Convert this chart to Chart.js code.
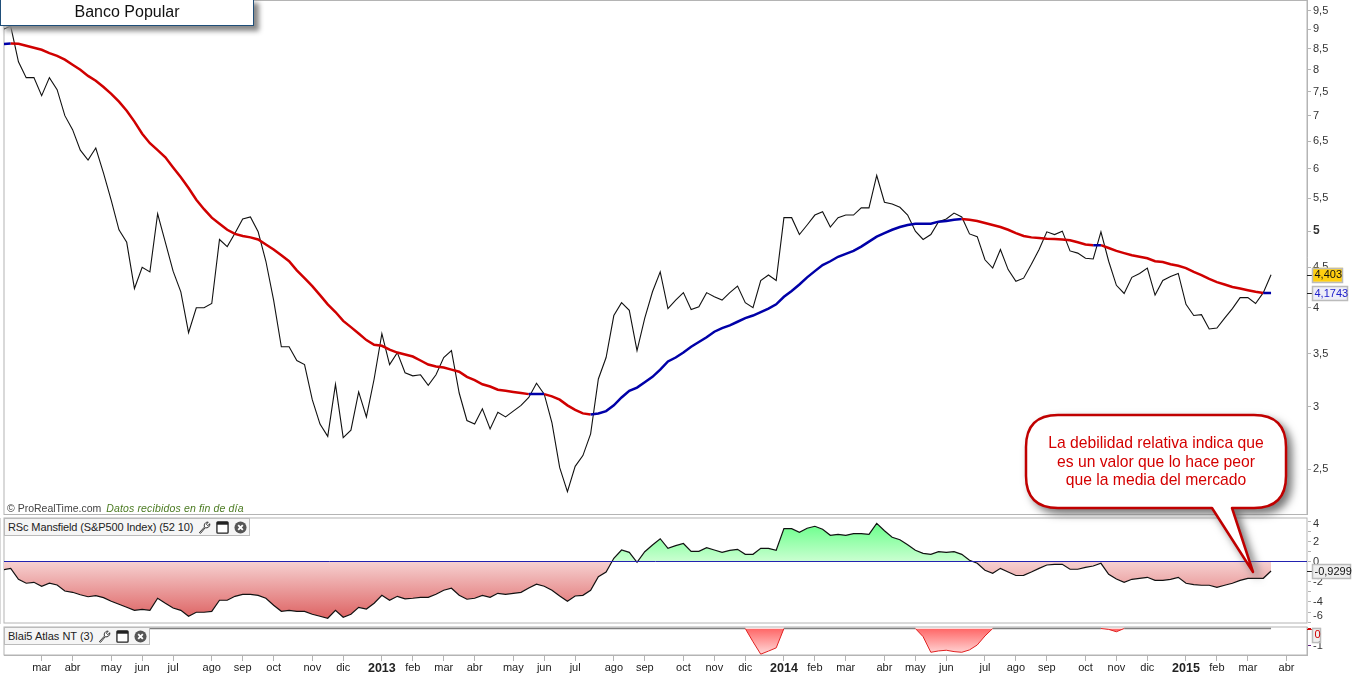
<!DOCTYPE html>
<html lang="es">
<head>
<meta charset="UTF-8">
<title>Banco Popular</title>
<script src="https://cdn.jsdelivr.net/npm/chart.js"></script>
<style>
  html, body { margin: 0; padding: 0; background: #fff; overflow: hidden; font-family: "Liberation Sans", Arial, sans-serif; }
  canvas { position: absolute; left: 0; }
  #title { position: absolute; left: 0; top: -2px; width: 252px; height: 26px; border: 1.5px solid #1f4e79; background: #fff;
           box-shadow: 5px 5px 5px #888; text-align: center; font-size: 16px; line-height: 26px; color: #111; }
  #source { position: absolute; left: 7px; top: 502px; font-size: 10.5px; color: #444; white-space: nowrap; }
  #source i { color: #4a7a20; margin-left: 2px; letter-spacing: 0.15px; }
  .tag { position: absolute; left: 4px; box-sizing: border-box; background: #f5f5f5; border: 1px solid #bbb; font-size: 11px; color: #222;
         display: flex; align-items: center; padding-left: 3px; white-space: nowrap; }
  .tag svg { margin-left: 5px; flex: none; }
  #callout { position: absolute; left: 1020px; top: 410px; filter: drop-shadow(5px 5px 4px #777); }
  #calloutText { position: absolute; left: 1026px; top: 434px; width: 260px; text-align: center; font-size: 15.7px; line-height: 18.5px; color: #d40000; }
</style>
</head>
<body>
<canvas id="priceChart" width="1361" height="516" style="top:0"></canvas>
<canvas id="rsChart" width="1361" height="110" style="top:516px"></canvas>
<canvas id="atlasChart" width="1361" height="50" style="top:624px"></canvas>

<div id="title">Banco Popular</div>
<div id="source">© ProRealTime.com <i>Datos recibidos en fin de día</i></div>

<div class="tag" style="top:518px;width:246px;height:18px"><span style="letter-spacing:-0.12px">RSc Mansfield (S&amp;P500 Index) (52 10)</span>
  <svg width="13" height="13" viewBox="0 0 14 14"><use href="#wrench"/></svg><svg width="13" height="13" viewBox="0 0 14 14"><use href="#win"/></svg><svg width="13" height="13" viewBox="0 0 14 14"><use href="#close"/></svg>
</div>
<div class="tag" style="top:627px;width:146px;height:18px"><span>Blai5 Atlas NT (3)</span>
  <svg width="13" height="13" viewBox="0 0 14 14"><use href="#wrench"/></svg><svg width="13" height="13" viewBox="0 0 14 14"><use href="#win"/></svg><svg width="13" height="13" viewBox="0 0 14 14"><use href="#close"/></svg>
</div>

<svg width="0" height="0" style="position:absolute">
  <defs>
    <g id="wrench"><path d="M1.5 12.5 L7 6.5 C6 3.5 8 1 11 1.2 L9 3.5 L10.5 5 L12.8 3 C13 6 10.5 8 7.8 7.3 L2.8 13.2 Z" fill="#fff" stroke="#222" stroke-width="1"/></g>
    <g id="win"><rect x="1" y="1" width="12" height="12" rx="1" fill="#fff" stroke="#222" stroke-width="1.4"/><rect x="1" y="1" width="12" height="3" fill="#222"/></g>
    <g id="close"><circle cx="7" cy="7" r="6.5" fill="#555"/><path d="M4.5 4.5 L9.5 9.5 M9.5 4.5 L4.5 9.5" stroke="#fff" stroke-width="2"/></g>
  </defs>
</svg>

<!-- callout over the two panels -->
<svg id="callout" width="260" height="175" viewBox="1020 410 260 175" style="overflow:visible">
  <path d="M1058 415 H1254 Q1286 415 1286 447 V476 Q1286 508 1254 508 H1232 L1253 572 L1212 508 H1058 Q1026 508 1026 476 V447 Q1026 415 1058 415 Z"
        fill="#fff" stroke="#c00000" stroke-width="2.5" stroke-linejoin="round"/>
</svg>
<div id="calloutText">La debilidad relativa indica que<br>es un valor que lo hace peor<br>que la media del mercado</div>

<script>
// weekly closes, one per week
const prices = [
  9.00, 9.08, 8.19, 7.82, 7.82, 7.42, 7.82, 7.55, 7.00, 6.72, 6.33, 6.15, 6.37, 5.92, 5.47, 5.02, 4.84, 4.23, 4.50, 4.44,
  5.26, 4.84, 4.45, 4.19, 3.72, 4.00, 4.00, 4.05, 4.88, 4.78, 4.97, 5.18, 5.21, 4.99, 4.58, 4.09, 3.57, 3.57, 3.43, 3.39,
  3.06, 2.85, 2.75, 3.20, 2.74, 2.80, 3.13, 2.91, 3.25, 3.71, 3.39, 3.51, 3.31, 3.28, 3.29, 3.19, 3.29, 3.46, 3.53, 3.12,
  2.88, 2.85, 2.98, 2.81, 2.95, 2.91, 2.96, 3.01, 3.08, 3.21, 3.11, 2.86, 2.51, 2.34, 2.52, 2.60, 2.77, 3.25, 3.46, 3.91,
  4.06, 3.97, 3.53, 3.88, 4.19, 4.44, 3.99, 4.09, 4.18, 3.98, 4.01, 4.18, 4.13, 4.09, 4.18, 4.26, 4.06, 4.00, 4.33, 4.40,
  4.33, 5.20, 5.20, 4.95, 5.09, 5.24, 5.29, 5.06, 5.20, 5.24, 5.24, 5.35, 5.35, 5.88, 5.44, 5.41, 5.36, 5.24, 5.00, 4.88,
  4.95, 5.14, 5.18, 5.27, 5.21, 4.96, 4.92, 4.60, 4.49, 4.74, 4.47, 4.32, 4.36, 4.54, 4.74, 4.99, 4.95, 5.00, 4.72, 4.69,
  4.62, 4.61, 4.99, 4.58, 4.27, 4.17, 4.37, 4.42, 4.49, 4.15, 4.33, 4.38, 4.42, 4.04, 3.91, 3.92, 3.76, 3.77, 3.88, 3.99,
  4.12, 4.12, 4.05, 4.18, 4.403
];

// moving average on the price panel
const average = [
  8.62, 8.64, 8.63, 8.58, 8.53, 8.48, 8.40, 8.33, 8.24, 8.12, 8.00, 7.86, 7.75, 7.61, 7.46, 7.29, 7.10, 6.88, 6.64, 6.46,
  6.33, 6.20, 6.02, 5.85, 5.67, 5.48, 5.33, 5.20, 5.11, 5.02, 4.96, 4.93, 4.91, 4.88, 4.81, 4.74, 4.66, 4.58, 4.46, 4.36,
  4.26, 4.15, 4.04, 3.95, 3.85, 3.78, 3.71, 3.64, 3.59, 3.58, 3.54, 3.51, 3.49, 3.47, 3.43, 3.39, 3.37, 3.36, 3.34, 3.32,
  3.27, 3.24, 3.20, 3.18, 3.15, 3.14, 3.13, 3.12, 3.11, 3.11, 3.11, 3.09, 3.06, 3.01, 2.97, 2.94, 2.93, 2.94, 2.96, 3.01,
  3.08, 3.14, 3.17, 3.22, 3.27, 3.34, 3.42, 3.46, 3.51, 3.57, 3.62, 3.67, 3.73, 3.77, 3.80, 3.84, 3.88, 3.91, 3.95, 3.99,
  4.04, 4.13, 4.20, 4.28, 4.37, 4.45, 4.53, 4.58, 4.64, 4.68, 4.72, 4.78, 4.85, 4.92, 4.97, 5.02, 5.06, 5.09, 5.11, 5.11,
  5.11, 5.14, 5.15, 5.17, 5.18, 5.17, 5.15, 5.12, 5.09, 5.06, 5.02, 4.97, 4.93, 4.91, 4.90, 4.89, 4.885, 4.88, 4.87, 4.84,
  4.81, 4.80, 4.80, 4.76, 4.72, 4.69, 4.66, 4.64, 4.62, 4.58, 4.57, 4.54, 4.52, 4.49, 4.44, 4.40, 4.35, 4.31, 4.28, 4.25,
  4.23, 4.21, 4.19, 4.1743, 4.1743
];

// RSc Mansfield
const mansfield = [
  -0.82, -0.66, -1.75, -2.14, -2.05, -2.44, -2.14, -2.31, -2.91, -3.04, -3.28, -3.48, -3.38, -3.57, -3.93, -4.23, -4.53, -4.83, -4.73, -4.83,
  -3.63, -4.13, -4.60, -4.83, -5.42, -5.02, -5.02, -4.93, -3.83, -3.83, -3.44, -3.24, -3.24, -3.34, -3.63, -4.33, -4.93, -4.83, -4.93, -4.93,
  -5.22, -5.42, -5.62, -4.83, -5.52, -5.22, -4.53, -4.70, -4.13, -3.34, -3.83, -3.44, -3.70, -3.63, -3.54, -3.54, -3.24, -2.84, -2.64, -3.34,
  -3.73, -3.63, -3.34, -3.54, -3.14, -3.24, -3.14, -3.04, -2.61, -2.24, -2.44, -2.84, -3.41, -3.93, -3.41, -3.34, -2.84, -1.49, -1.02, 0.34,
  1.16, 0.93, -0.06, 0.99, 1.66, 2.28, 1.33, 1.59, 1.81, 1.03, 1.03, 1.39, 1.16, 0.93, 1.13, 1.23, 0.73, 0.73, 1.33, 1.33,
  1.13, 3.28, 3.28, 2.92, 3.32, 3.52, 3.22, 2.62, 2.72, 2.62, 2.78, 2.78, 2.72, 3.81, 3.08, 2.42, 2.18, 1.69, 1.13, 0.83,
  0.73, 0.99, 0.93, 0.99, 0.73, 0.14, -0.16, -0.85, -1.15, -0.66, -1.02, -1.37, -1.35, -1.02, -0.66, -0.33, -0.26, -0.26, -0.75, -0.75,
  -0.56, -0.43, -0.16, -1.25, -1.72, -2.05, -1.75, -1.65, -1.55, -1.85, -1.85, -1.75, -1.55, -2.14, -2.28, -2.34, -2.34, -2.54, -2.34, -2.14,
  -1.85, -1.65, -1.65, -1.65, -0.9299
];

// Blai5 Atlas NT, zero except for three dips
const atlas = [
  0, 0, 0, 0, 0, 0, 0, 0, 0, 0, 0, 0, 0, 0, 0, 0, 0, 0, 0, 0,
  0, 0, 0, 0, 0, 0, 0, 0, 0, 0, 0, 0, 0, 0, 0, 0, 0, 0, 0, 0,
  0, 0, 0, 0, 0, 0, 0, 0, 0, 0, 0, 0, 0, 0, 0, 0, 0, 0, 0, 0,
  0, 0, 0, 0, 0, 0, 0, 0, 0, 0, 0, 0, 0, 0, 0, 0, 0, 0, 0, 0,
  0, 0, 0, 0, 0, 0, 0, 0, 0, 0, 0, 0, 0, 0, 0, 0, 0, -0.78, -1.51, -1.33,
  -1.14, 0, 0, 0, 0, 0, 0, 0, 0, 0, 0, 0, 0, 0, 0, 0, 0, 0, 0, -0.48,
  -1.40, -1.32, -1.28, -1.36, -1.40, -1.26, -0.97, -0.44, 0, 0, 0, 0, 0, 0, 0, 0, 0, 0, 0, 0,
  0, 0, 0, -0.05, -0.19, 0, 0, 0, 0, 0, 0, 0, 0, 0, 0, 0, 0, 0, 0, 0,
  0, 0, 0, 0, 0
];

// x axis: week index of every month tick and its label
const monthWeeks = [5, 9, 14, 18, 22, 27, 31, 35, 40, 44, 49, 53, 57, 61, 66, 70, 74, 79, 83, 88, 92, 96, 101, 105, 109, 114, 118, 122, 127, 131, 135, 140, 144, 148, 153, 157, 161, 166];
const monthLabels = ['mar', 'abr', 'may', 'jun', 'jul', 'ago', 'sep', 'oct', 'nov', 'dic', '2013', 'feb', 'mar', 'abr', 'may', 'jun', 'jul', 'ago', 'sep', 'oct', 'nov', 'dic', '2014', 'feb', 'mar', 'abr', 'may', 'jun', 'jul', 'ago', 'sep', 'oct', 'nov', 'dic', '2015', 'feb', 'mar', 'abr'];

const priceTicks = [9.5, 9, 8.5, 8, 7.5, 7, 6.5, 6, 5.5, 5, 4.5, 4, 3.5, 3, 2.5];
const mansfieldTicks = [4, 3, 2, 1, 0, -1, -2, -3, -4, -5, -6];
const atlasTicks = [0, -1];

const WEEK_MIN = 0.13, WEEK_MAX = 168.65;
const AXIS_WIDTH = 54;
const GREY = '#b4b4b4', TEXT = '#333', RED = '#d00000', BLUE = '#0000a8', NAVY = '#2222b0';
const FONT = 'Liberation Sans';

const comma = v => String(v).replace('.', ',');
const points = arr => arr.map((y, x) => ({ x, y }));

// box around each plot, like the panel frames of the original
const framePlugin = {
  id: 'frame',
  beforeDraw(chart) {
    const { ctx, chartArea: a } = chart;
    ctx.save();
    ctx.strokeStyle = GREY;
    ctx.lineWidth = 1;
    ctx.strokeRect(a.left, a.top, a.right - a.left, a.bottom - a.top);
    ctx.restore();
  }
};

// value flags on the right hand axis
function drawFlag(chart, value, text, fill, color, width, tickColor) {
  const { ctx, chartArea: a } = chart;
  const y = chart.scales.y.getPixelForValue(value);
  const mid = Math.max(y, a.top + 7.5);
  ctx.save();
  ctx.strokeStyle = tickColor;
  ctx.beginPath();
  ctx.moveTo(a.right, Math.round(y) + 0.5);
  ctx.lineTo(a.right + 5, Math.round(y) + 0.5);
  ctx.stroke();
  ctx.fillStyle = fill;
  ctx.strokeStyle = '#bbb';
  ctx.lineWidth = 1.5;
  ctx.fillRect(a.right + 5, mid - 7, width, 14);
  ctx.strokeRect(a.right + 5.5, Math.round(mid - 7) + 0.5, width - 1, 14);
  ctx.fillStyle = color;
  ctx.font = '11px "' + FONT + '"';
  ctx.textAlign = 'left';
  ctx.textBaseline = 'middle';
  ctx.fillText(text, a.right + 7.5, mid + 0.5);
  ctx.restore();
}

function yAxis(min, max, ticks, extra) {
  return Object.assign({
    type: 'linear',
    position: 'right',
    min, max,
    afterBuildTicks: axis => { axis.ticks = ticks.map(value => ({ value })); },
    afterFit: axis => { axis.width = AXIS_WIDTH; axis.paddingTop = 0; axis.paddingBottom = 0; },
    border: { color: GREY },
    grid: { drawOnChartArea: false, tickLength: 4, tickColor: GREY },
    ticks: { padding: 2, color: TEXT, font: { family: FONT, size: 11 }, autoSkip: false, callback: comma }
  }, extra);
}

const hiddenX = { type: 'linear', display: false, min: WEEK_MIN, max: WEEK_MAX };
const baseOptions = (padding, scales) => ({
  responsive: false,
  animation: false,
  layout: { padding },
  plugins: { legend: { display: false }, tooltip: { enabled: false } },
  scales
});

// price panel
const priceAxis = yAxis(2.19, 9.79, priceTicks, { type: 'logarithmic' });
priceAxis.ticks.font = c => ({ family: FONT, size: c.tick && c.tick.value === 5 ? 12 : 11, weight: c.tick && c.tick.value === 5 ? 'bold' : 'normal' });

new Chart(document.getElementById('priceChart'), {
  type: 'line',
  data: {
    datasets: [
      { data: points(average), borderWidth: 2.5, pointRadius: 0, borderColor: RED,
        segment: { borderColor: c => c.p1.parsed.y >= c.p0.parsed.y ? BLUE : RED } },
      { data: points(prices), borderWidth: 1.1, pointRadius: 0, borderColor: '#111' }
    ]
  },
  options: baseOptions({ left: 4, top: 0.5, bottom: 1.5 }, { x: hiddenX, y: priceAxis }),
  plugins: [framePlugin, {
    id: 'flags',
    afterDraw(chart) {
      const lastPrice = prices[prices.length - 1], lastAvg = average[average.length - 1];
      drawFlag(chart, lastPrice, comma(lastPrice), '#ffcf10', '#111', 31, '#222');
      drawFlag(chart, lastAvg, comma(lastAvg), '#eeeef8', '#2020cc', 36, '#222');
    }
  }]
});

// Mansfield panel
const rsCtx = document.getElementById('rsChart').getContext('2d');
const greenFill = rsCtx.createLinearGradient(0, 6, 0, 46);
greenFill.addColorStop(0, '#66ff88');
greenFill.addColorStop(1, '#ccffd2');
const redFill = rsCtx.createLinearGradient(0, 46, 0, 106);
redFill.addColorStop(0, '#f6d0d0');
redFill.addColorStop(1, '#dc5c5c');

const rsAxis = yAxis(-6.09, 4.34, mansfieldTicks);
rsAxis.grid = {
  z: 1,
  tickLength: 4,
  tickColor: GREY,
  color: c => c.tick.value === 0 ? NAVY : 'transparent'
};
// 4 and -6 sit at the panel edges, their labels are moved in by the plugin below
rsAxis.ticks.callback = v => (v % 2 === 0 && v !== 4 && v !== -6) ? String(v) : '';

new Chart(rsCtx, {
  type: 'line',
  data: {
    datasets: [{
      data: points(mansfield),
      borderColor: '#111',
      borderWidth: 1.2,
      pointRadius: 0,
      fill: { target: { value: 0 }, above: greenFill, below: redFill }
    }]
  },
  options: baseOptions({ left: 4, top: 2, bottom: 3 }, { x: hiddenX, y: rsAxis }),
  plugins: [framePlugin, {
    id: 'edgeLabels',
    afterDraw(chart) {
      const { ctx, chartArea: a } = chart;
      const y = chart.scales.y;
      ctx.save();
      ctx.fillStyle = TEXT;
      ctx.font = '11px "' + FONT + '"';
      ctx.textAlign = 'left';
      ctx.textBaseline = 'middle';
      ctx.fillText('4', a.right + 6, y.getPixelForValue(4) + 3);
      ctx.fillText('-6', a.right + 6, y.getPixelForValue(-6) - 6);
      ctx.restore();
      const last = mansfield[mansfield.length - 1];
      drawFlag(chart, last, comma(last), '#eeeeee', '#111', 39, '#222');
    }
  }]
});

// Atlas panel with the month axis
const atlasCtx = document.getElementById('atlasChart').getContext('2d');
const atlasFill = atlasCtx.createLinearGradient(0, 4, 0, 31);
atlasFill.addColorStop(0, '#ff6464');
atlasFill.addColorStop(1, '#ffdcdc');

const atlasAxis = yAxis(-1.56, 0.09, atlasTicks);
atlasAxis.grid.tickColor = c => c.tick.value === 0 ? '#d00000' : '#602080';
atlasAxis.ticks.callback = v => v === 0 ? '' : String(v);

new Chart(atlasCtx, {
  type: 'line',
  data: {
    datasets: [{
      data: points(atlas),
      borderColor: '#808080',
      borderWidth: 1.5,
      pointRadius: 0,
      fill: { target: { value: 0 }, below: atlasFill, above: 'transparent' },
      segment: {
        borderColor: c => (c.p0.parsed.y < 0 || c.p1.parsed.y < 0) ? '#e02020' : '#808080',
        borderWidth: c => (c.p0.parsed.y < 0 || c.p1.parsed.y < 0) ? 1 : 1.5
      }
    }]
  },
  options: baseOptions({ left: 4, top: 3 }, {
    x: {
      type: 'linear',
      min: WEEK_MIN,
      max: WEEK_MAX,
      afterBuildTicks: axis => { axis.ticks = monthWeeks.map(value => ({ value })); },
      afterFit: axis => { axis.height = 19; axis.paddingLeft = 0; axis.paddingRight = 0; },
      border: { color: GREY },
      grid: { drawOnChartArea: false, tickLength: 6, tickColor: GREY },
      ticks: {
        autoSkip: false,
        maxRotation: 0,
        padding: 0,
        color: '#222',
        callback: (v, i) => monthLabels[i],
        font: c => {
          const isYear = /^\d+$/.test(monthLabels[c.index]);
          return { family: FONT, size: isYear ? 12.5 : 11, weight: isYear ? 'bold' : 'normal' };
        }
      }
    },
    y: atlasAxis
  }),
  plugins: [framePlugin, {
    id: 'zeroFlag',
    afterDraw(chart) { drawFlag(chart, 0, '0', '#f0f0f0', '#d00000', 9, '#d00000'); }
  }]
});
</script>
</body>
</html>
